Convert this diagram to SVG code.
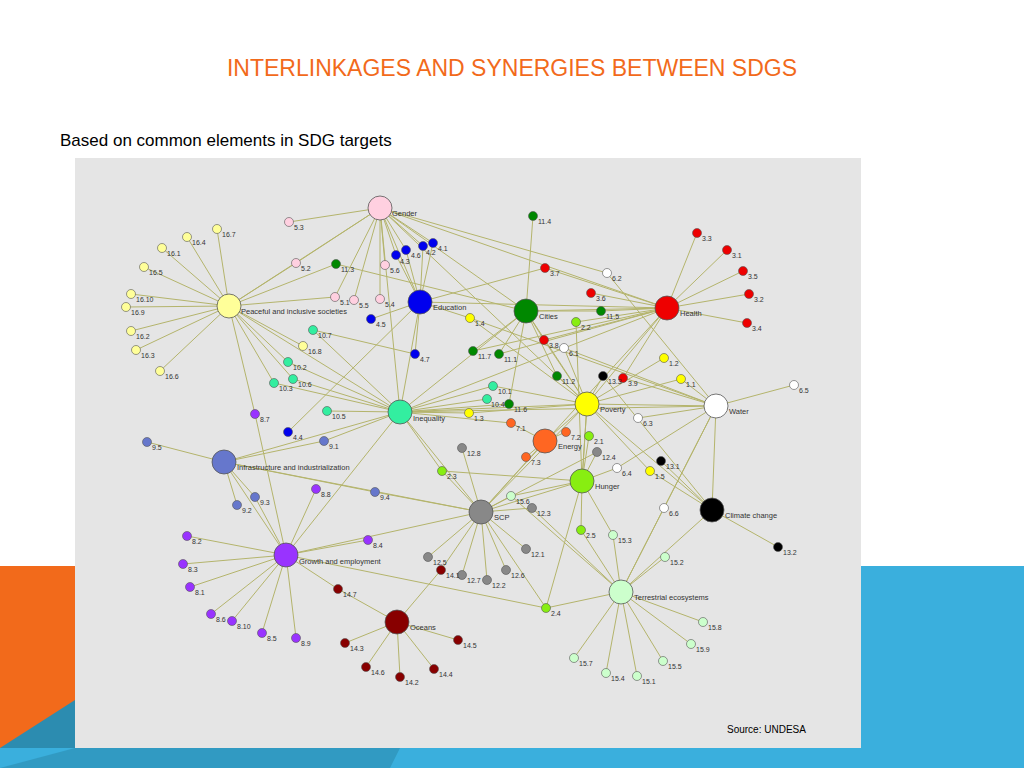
<svg xmlns="http://www.w3.org/2000/svg" width="1024" height="768" viewBox="0 0 1024 768">
<style>
.e{fill:none;stroke:#b4b46c;stroke-width:1}
.t{stroke:#555;stroke-width:.6}
.h{stroke:#555;stroke-width:.8}
.l{font-family:"Liberation Sans",Arial,sans-serif;font-size:7px;fill:#333}
.hl{font-family:"Liberation Sans",Arial,sans-serif;font-size:7.5px;fill:#333}
.g{fill:#ffd0e0}.p{fill:#ffff99}.ed{fill:#0000ee}.c{fill:#008800}.he{fill:#ee0000}.w{fill:#fff}.pv{fill:#ffff00}.i{fill:#33eea0}.en{fill:#ff6622}.hu{fill:#88ee11}.inf{fill:#6677cc}.cl{fill:#000}.s{fill:#888}.gr{fill:#9933ff}.o{fill:#880000}.te{fill:#ccffcc}
</style>
<rect width="1024" height="768" fill="#fff"/>
<rect x="0" y="566" width="80" height="202" fill="#f26a1b"/>
<rect x="855" y="566" width="169" height="202" fill="#3aafdd"/>
<rect x="0" y="748" width="1024" height="20" fill="#3aafdd"/>
<polygon points="0,748 75,700 75,748" fill="#2c8cb0"/>
<polygon points="75,748 400,748 390,768 0,768" fill="#2c8cb0" opacity="0.6"/>
<text x="512" y="76" text-anchor="middle" font-family="'Liberation Sans',Arial,sans-serif" font-size="23" fill="#f26a1b">INTERLINKAGES AND SYNERGIES BETWEEN SDGS</text>
<text x="60" y="146" font-family="'Liberation Sans',Arial,sans-serif" font-size="17" fill="#000">Based on common elements in SDG targets</text>
<rect x="75" y="158" width="786" height="590" fill="#e5e5e5"/>
<g id="connectors">
<path class="e" d="M380 208L289 222M380 208L296 263M380 208L335 297M380 208L354 300M380 208L380 299M380 208L385 265M380 208L396 255M380 208L406 250M380 208L423 246M380 208L433 243M380 208L400 412M380 208L420 302M380 208L667 308M380 208L607 273M380 208L587 404M380 208L526 311M380 208L229 306"/>
<path class="e" d="M229 306L217 229M229 306L187 237M229 306L162 248M229 306L144 267M229 306L131 294M229 306L126 307M229 306L131 331M229 306L136 350M229 306L160 371M229 306L303 346M229 306L296 263M229 306L336 264M229 306L335 297M229 306L288 362M229 306L293 379M229 306L274 383M229 306L400 412M229 306L255 414M313 330L415 354"/>
<path class="e" d="M420 302L433 243M420 302L423 246M420 302L406 250M420 302L396 255M420 302L371 319M420 302L415 354M420 302L288 432M420 302L400 412M420 302L470 318M420 302L667 308M420 302L545 268"/>
<path class="e" d="M526 311L533 216M526 311L336 264M526 311L601 311M526 311L473 351M526 311L499 354M526 311L557 376M526 311L509 404M526 311L667 308M526 311L587 404M526 311L400 412M526 311L544 340"/>
<path class="e" d="M667 308L697 233M667 308L727 250M667 308L743 271M667 308L749 294M667 308L747 323M667 308L545 268M667 308L591 293M667 308L544 340M667 308L623 378M667 308L576 322M667 308L601 311M667 308L400 412M667 308L587 404M667 308L481 512M667 308L499 354M667 308L473 351"/>
<path class="e" d="M716 406L607 273M716 406L564 348M716 406L794 385M716 406L638 418M716 406L617 468M716 406L664 508M716 406L587 404M716 406L681 379M716 406L623 378M716 406L400 412M716 406L621 592M716 406L470 318"/>
<path class="e" d="M587 404L470 318M587 404L664 358M587 404L681 379M587 404L469 413M587 404L650 471M587 404L400 412M587 404L557 376M587 404L544 340M587 404L564 348M587 404L603 376M587 404L582 481M587 404L481 512M587 404L712 510M587 404L493 386"/>
<path class="e" d="M400 412L313 330M400 412L288 362M400 412L293 379M400 412L274 383M400 412L327 411M400 412L493 386M400 412L487 399M400 412L469 413M400 412L509 404M400 412L224 462M400 412L286 555M400 412L481 512M400 412L324 441M400 412L442 471M400 412L511 423"/>
<path class="e" d="M545 441L511 423M545 441L566 432M545 441L526 457M545 441L587 404M545 441L481 512"/>
<path class="e" d="M582 481L576 322M582 481L589 436M582 481L442 471M582 481L581 530M582 481L546 608M582 481L481 512M582 481L613 535M582 481L587 404M582 481L597 452M582 481L617 468M582 481L511 496"/>
<path class="e" d="M224 462L147 442M224 462L324 441M224 462L255 497M224 462L237 505M224 462L375 492M224 462L481 512M224 462L286 555"/>
<path class="e" d="M712 510L603 376M712 510L661 461M712 510L778 547M712 510L650 471M712 510L621 592M712 510L716 406"/>
<path class="e" d="M481 512L462 448M481 512L597 452M481 512L532 508M481 512L526 549M481 512L428 557M481 512L462 575M481 512L487 580M481 512L506 570M481 512L442 471M481 512L375 492M481 512L511 496M481 512L441 570M481 512L286 555M481 512L546 608"/>
<path class="e" d="M286 555L255 414M286 555L316 489M286 555L368 540M286 555L187 536M286 555L183 564M286 555L190 587M286 555L211 614M286 555L232 621M286 555L262 633M286 555L296 638M286 555L338 589M286 555L546 608M286 555L255 497"/>
<path class="e" d="M397 622L338 589M397 622L441 570M397 622L345 643M397 622L366 667M397 622L400 677M397 622L434 669M397 622L458 640"/>
<path class="e" d="M621 592L511 496M621 592L613 535M621 592L665 557M621 592L703 622M621 592L691 644M621 592L663 661M621 592L637 676M621 592L606 673M621 592L574 658M621 592L546 608M621 592L664 508M621 592L581 530M621 592L532 508"/>
</g>
<g id="hubs">
<g id="gender"><circle class="h g" cx="380" cy="208" r="12"/><text class="hl" x="392" y="216">Gender</text></g>
<g id="peace"><circle class="h p" cx="229" cy="306" r="12"/><text class="hl" x="241" y="314">Peaceful and inclusive societies</text></g>
<g id="education"><circle class="h ed" cx="420" cy="302" r="12"/><text class="hl" x="433" y="310">Education</text></g>
<g id="cities"><circle class="h c" cx="526" cy="311" r="12"/><text class="hl" x="539" y="319">Cities</text></g>
<g id="health"><circle class="h he" cx="667" cy="308" r="12"/><text class="hl" x="680" y="316">Health</text></g>
<g id="water"><circle class="h w" cx="716" cy="406" r="12"/><text class="hl" x="729" y="414">Water</text></g>
<g id="poverty"><circle class="h pv" cx="587" cy="404" r="12"/><text class="hl" x="600" y="412">Poverty</text></g>
<g id="inequality"><circle class="h i" cx="400" cy="412" r="12"/><text class="hl" x="413" y="421">Inequality</text></g>
<g id="energy"><circle class="h en" cx="545" cy="441" r="12"/><text class="hl" x="558" y="449">Energy</text></g>
<g id="infra"><circle class="h inf" cx="224" cy="462" r="12"/><text class="hl" x="237" y="470">Infrastructure and industrialization</text></g>
<g id="hunger"><circle class="h hu" cx="582" cy="481" r="12"/><text class="hl" x="595" y="489">Hunger</text></g>
<g id="climate"><circle class="h cl" cx="712" cy="510" r="12"/><text class="hl" x="725" y="518">Climate change</text></g>
<g id="scp"><circle class="h s" cx="481" cy="512" r="12"/><text class="hl" x="494" y="520">SCP</text></g>
<g id="growth"><circle class="h gr" cx="286" cy="555" r="12"/><text class="hl" x="299" y="564">Growth and employment</text></g>
<g id="oceans"><circle class="h o" cx="397" cy="622" r="12"/><text class="hl" x="410" y="630">Oceans</text></g>
<g id="terrestrial"><circle class="h te" cx="621" cy="592" r="12"/><text class="hl" x="634" y="600">Terrestrial ecosystems</text></g>
</g>
<g id="targets">
<g id="t5-3"><circle class="t g" cx="289" cy="222" r="4.5"/><text class="l" x="294" y="230">5.3</text></g>
<g id="t5-2"><circle class="t g" cx="296" cy="263" r="4.5"/><text class="l" x="301" y="271">5.2</text></g>
<g id="t5-1"><circle class="t g" cx="335" cy="297" r="4.5"/><text class="l" x="340" y="305">5.1</text></g>
<g id="t5-5"><circle class="t g" cx="354" cy="300" r="4.5"/><text class="l" x="359" y="308">5.5</text></g>
<g id="t5-4"><circle class="t g" cx="380" cy="299" r="4.5"/><text class="l" x="385" y="307">5.4</text></g>
<g id="t5-6"><circle class="t g" cx="385" cy="265" r="4.5"/><text class="l" x="390" y="273">5.6</text></g>
<g id="t16-7"><circle class="t p" cx="217" cy="229" r="4.5"/><text class="l" x="222" y="237">16.7</text></g>
<g id="t16-4"><circle class="t p" cx="187" cy="237" r="4.5"/><text class="l" x="192" y="245">16.4</text></g>
<g id="t16-1"><circle class="t p" cx="162" cy="248" r="4.5"/><text class="l" x="167" y="256">16.1</text></g>
<g id="t16-5"><circle class="t p" cx="144" cy="267" r="4.5"/><text class="l" x="149" y="275">16.5</text></g>
<g id="t16-10"><circle class="t p" cx="131" cy="294" r="4.5"/><text class="l" x="136" y="302">16.10</text></g>
<g id="t16-9"><circle class="t p" cx="126" cy="307" r="4.5"/><text class="l" x="131" y="315">16.9</text></g>
<g id="t16-2"><circle class="t p" cx="131" cy="331" r="4.5"/><text class="l" x="136" y="339">16.2</text></g>
<g id="t16-3"><circle class="t p" cx="136" cy="350" r="4.5"/><text class="l" x="141" y="358">16.3</text></g>
<g id="t16-6"><circle class="t p" cx="160" cy="371" r="4.5"/><text class="l" x="165" y="379">16.6</text></g>
<g id="t16-8"><circle class="t p" cx="303" cy="346" r="4.5"/><text class="l" x="308" y="354">16.8</text></g>
<g id="t4-1"><circle class="t ed" cx="433" cy="243" r="4.5"/><text class="l" x="438" y="251">4.1</text></g>
<g id="t4-2"><circle class="t ed" cx="423" cy="246" r="4.5"/><text class="l" x="426" y="255">4.2</text></g>
<g id="t4-6"><circle class="t ed" cx="406" cy="250" r="4.5"/><text class="l" x="411" y="258">4.6</text></g>
<g id="t4-3"><circle class="t ed" cx="396" cy="255" r="4.5"/><text class="l" x="400" y="264">4.3</text></g>
<g id="t4-5"><circle class="t ed" cx="371" cy="319" r="4.5"/><text class="l" x="376" y="327">4.5</text></g>
<g id="t4-7"><circle class="t ed" cx="415" cy="354" r="4.5"/><text class="l" x="420" y="362">4.7</text></g>
<g id="t4-4"><circle class="t ed" cx="288" cy="432" r="4.5"/><text class="l" x="293" y="440">4.4</text></g>
<g id="t11-4"><circle class="t c" cx="533" cy="216" r="4.5"/><text class="l" x="538" y="224">11.4</text></g>
<g id="t11-3"><circle class="t c" cx="336" cy="264" r="4.5"/><text class="l" x="341" y="272">11.3</text></g>
<g id="t11-5"><circle class="t c" cx="601" cy="311" r="4.5"/><text class="l" x="606" y="319">11.5</text></g>
<g id="t11-7"><circle class="t c" cx="473" cy="351" r="4.5"/><text class="l" x="478" y="359">11.7</text></g>
<g id="t11-1"><circle class="t c" cx="499" cy="354" r="4.5"/><text class="l" x="504" y="362">11.1</text></g>
<g id="t11-2"><circle class="t c" cx="557" cy="376" r="4.5"/><text class="l" x="562" y="384">11.2</text></g>
<g id="t11-6"><circle class="t c" cx="509" cy="404" r="4.5"/><text class="l" x="514" y="412">11.6</text></g>
<g id="t3-3"><circle class="t he" cx="697" cy="233" r="4.5"/><text class="l" x="702" y="241">3.3</text></g>
<g id="t3-1"><circle class="t he" cx="727" cy="250" r="4.5"/><text class="l" x="732" y="258">3.1</text></g>
<g id="t3-5"><circle class="t he" cx="743" cy="271" r="4.5"/><text class="l" x="748" y="279">3.5</text></g>
<g id="t3-2"><circle class="t he" cx="749" cy="294" r="4.5"/><text class="l" x="754" y="302">3.2</text></g>
<g id="t3-4"><circle class="t he" cx="747" cy="323" r="4.5"/><text class="l" x="752" y="331">3.4</text></g>
<g id="t3-7"><circle class="t he" cx="545" cy="268" r="4.5"/><text class="l" x="550" y="276">3.7</text></g>
<g id="t3-6"><circle class="t he" cx="591" cy="293" r="4.5"/><text class="l" x="596" y="301">3.6</text></g>
<g id="t3-8"><circle class="t he" cx="544" cy="340" r="4.5"/><text class="l" x="549" y="348">3.8</text></g>
<g id="t3-9"><circle class="t he" cx="623" cy="378" r="4.5"/><text class="l" x="628" y="386">3.9</text></g>
<g id="t6-2"><circle class="t w" cx="607" cy="273" r="4.5"/><text class="l" x="612" y="281">6.2</text></g>
<g id="t6-1"><circle class="t w" cx="564" cy="348" r="4.5"/><text class="l" x="569" y="356">6.1</text></g>
<g id="t6-5"><circle class="t w" cx="794" cy="385" r="4.5"/><text class="l" x="799" y="393">6.5</text></g>
<g id="t6-3"><circle class="t w" cx="638" cy="418" r="4.5"/><text class="l" x="643" y="426">6.3</text></g>
<g id="t6-4"><circle class="t w" cx="617" cy="468" r="4.5"/><text class="l" x="622" y="476">6.4</text></g>
<g id="t6-6"><circle class="t w" cx="664" cy="508" r="4.5"/><text class="l" x="669" y="516">6.6</text></g>
<g id="t1-4"><circle class="t pv" cx="470" cy="318" r="4.5"/><text class="l" x="475" y="326">1.4</text></g>
<g id="t1-2"><circle class="t pv" cx="664" cy="358" r="4.5"/><text class="l" x="669" y="366">1.2</text></g>
<g id="t1-1"><circle class="t pv" cx="681" cy="379" r="4.5"/><text class="l" x="686" y="387">1.1</text></g>
<g id="t1-3"><circle class="t pv" cx="469" cy="413" r="4.5"/><text class="l" x="474" y="421">1.3</text></g>
<g id="t1-5"><circle class="t pv" cx="650" cy="471" r="4.5"/><text class="l" x="655" y="479">1.5</text></g>
<g id="t10-7"><circle class="t i" cx="313" cy="330" r="4.5"/><text class="l" x="318" y="338">10.7</text></g>
<g id="t10-2"><circle class="t i" cx="288" cy="362" r="4.5"/><text class="l" x="293" y="370">10.2</text></g>
<g id="t10-6"><circle class="t i" cx="293" cy="379" r="4.5"/><text class="l" x="298" y="387">10.6</text></g>
<g id="t10-3"><circle class="t i" cx="274" cy="383" r="4.5"/><text class="l" x="279" y="391">10.3</text></g>
<g id="t10-5"><circle class="t i" cx="327" cy="411" r="4.5"/><text class="l" x="332" y="419">10.5</text></g>
<g id="t10-1"><circle class="t i" cx="493" cy="386" r="4.5"/><text class="l" x="498" y="394">10.1</text></g>
<g id="t10-4"><circle class="t i" cx="487" cy="399" r="4.5"/><text class="l" x="491" y="407">10.4</text></g>
<g id="t7-1"><circle class="t en" cx="511" cy="423" r="4.5"/><text class="l" x="516" y="431">7.1</text></g>
<g id="t7-2"><circle class="t en" cx="566" cy="432" r="4.5"/><text class="l" x="571" y="440">7.2</text></g>
<g id="t7-3"><circle class="t en" cx="526" cy="457" r="4.5"/><text class="l" x="531" y="465">7.3</text></g>
<g id="t2-2"><circle class="t hu" cx="576" cy="322" r="4.5"/><text class="l" x="581" y="330">2.2</text></g>
<g id="t2-1"><circle class="t hu" cx="589" cy="436" r="4.5"/><text class="l" x="594" y="444">2.1</text></g>
<g id="t2-3"><circle class="t hu" cx="442" cy="471" r="4.5"/><text class="l" x="447" y="479">2.3</text></g>
<g id="t2-5"><circle class="t hu" cx="581" cy="530" r="4.5"/><text class="l" x="586" y="538">2.5</text></g>
<g id="t2-4"><circle class="t hu" cx="546" cy="608" r="4.5"/><text class="l" x="551" y="616">2.4</text></g>
<g id="t9-5"><circle class="t inf" cx="147" cy="442" r="4.5"/><text class="l" x="152" y="450">9.5</text></g>
<g id="t9-1"><circle class="t inf" cx="324" cy="441" r="4.5"/><text class="l" x="329" y="449">9.1</text></g>
<g id="t9-3"><circle class="t inf" cx="255" cy="497" r="4.5"/><text class="l" x="260" y="505">9.3</text></g>
<g id="t9-2"><circle class="t inf" cx="237" cy="505" r="4.5"/><text class="l" x="242" y="513">9.2</text></g>
<g id="t9-4"><circle class="t inf" cx="375" cy="492" r="4.5"/><text class="l" x="380" y="500">9.4</text></g>
<g id="t8-7"><circle class="t gr" cx="255" cy="414" r="4.5"/><text class="l" x="260" y="422">8.7</text></g>
<g id="t8-8"><circle class="t gr" cx="316" cy="489" r="4.5"/><text class="l" x="321" y="497">8.8</text></g>
<g id="t8-4"><circle class="t gr" cx="368" cy="540" r="4.5"/><text class="l" x="373" y="548">8.4</text></g>
<g id="t8-2"><circle class="t gr" cx="187" cy="536" r="4.5"/><text class="l" x="192" y="544">8.2</text></g>
<g id="t8-3"><circle class="t gr" cx="183" cy="564" r="4.5"/><text class="l" x="188" y="572">8.3</text></g>
<g id="t8-1"><circle class="t gr" cx="190" cy="587" r="4.5"/><text class="l" x="195" y="595">8.1</text></g>
<g id="t8-6"><circle class="t gr" cx="211" cy="614" r="4.5"/><text class="l" x="216" y="622">8.6</text></g>
<g id="t8-10"><circle class="t gr" cx="232" cy="621" r="4.5"/><text class="l" x="237" y="629">8.10</text></g>
<g id="t8-5"><circle class="t gr" cx="262" cy="633" r="4.5"/><text class="l" x="267" y="641">8.5</text></g>
<g id="t8-9"><circle class="t gr" cx="296" cy="638" r="4.5"/><text class="l" x="301" y="646">8.9</text></g>
<g id="t12-8"><circle class="t s" cx="462" cy="448" r="4.5"/><text class="l" x="467" y="456">12.8</text></g>
<g id="t12-4"><circle class="t s" cx="597" cy="452" r="4.5"/><text class="l" x="602" y="460">12.4</text></g>
<g id="t12-3"><circle class="t s" cx="532" cy="508" r="4.5"/><text class="l" x="537" y="516">12.3</text></g>
<g id="t12-1"><circle class="t s" cx="526" cy="549" r="4.5"/><text class="l" x="531" y="557">12.1</text></g>
<g id="t12-5"><circle class="t s" cx="428" cy="557" r="4.5"/><text class="l" x="433" y="565">12.5</text></g>
<g id="t12-7"><circle class="t s" cx="462" cy="575" r="4.5"/><text class="l" x="467" y="583">12.7</text></g>
<g id="t12-2"><circle class="t s" cx="487" cy="580" r="4.5"/><text class="l" x="492" y="588">12.2</text></g>
<g id="t12-6"><circle class="t s" cx="506" cy="570" r="4.5"/><text class="l" x="511" y="578">12.6</text></g>
<g id="t13-3"><circle class="t cl" cx="603" cy="376" r="4.5"/><text class="l" x="608" y="384">13.3</text></g>
<g id="t13-1"><circle class="t cl" cx="661" cy="461" r="4.5"/><text class="l" x="666" y="469">13.1</text></g>
<g id="t13-2"><circle class="t cl" cx="778" cy="547" r="4.5"/><text class="l" x="783" y="555">13.2</text></g>
<g id="t14-7"><circle class="t o" cx="338" cy="589" r="4.5"/><text class="l" x="343" y="597">14.7</text></g>
<g id="t14-1"><circle class="t o" cx="441" cy="570" r="4.5"/><text class="l" x="446" y="578">14.1</text></g>
<g id="t14-3"><circle class="t o" cx="345" cy="643" r="4.5"/><text class="l" x="350" y="651">14.3</text></g>
<g id="t14-6"><circle class="t o" cx="366" cy="667" r="4.5"/><text class="l" x="371" y="675">14.6</text></g>
<g id="t14-2"><circle class="t o" cx="400" cy="677" r="4.5"/><text class="l" x="405" y="685">14.2</text></g>
<g id="t14-4"><circle class="t o" cx="434" cy="669" r="4.5"/><text class="l" x="439" y="677">14.4</text></g>
<g id="t14-5"><circle class="t o" cx="458" cy="640" r="4.5"/><text class="l" x="463" y="648">14.5</text></g>
<g id="t15-6"><circle class="t te" cx="511" cy="496" r="4.5"/><text class="l" x="516" y="504">15.6</text></g>
<g id="t15-3"><circle class="t te" cx="613" cy="535" r="4.5"/><text class="l" x="618" y="543">15.3</text></g>
<g id="t15-2"><circle class="t te" cx="665" cy="557" r="4.5"/><text class="l" x="670" y="565">15.2</text></g>
<g id="t15-8"><circle class="t te" cx="703" cy="622" r="4.5"/><text class="l" x="708" y="630">15.8</text></g>
<g id="t15-9"><circle class="t te" cx="691" cy="644" r="4.5"/><text class="l" x="696" y="652">15.9</text></g>
<g id="t15-5"><circle class="t te" cx="663" cy="661" r="4.5"/><text class="l" x="668" y="669">15.5</text></g>
<g id="t15-1"><circle class="t te" cx="637" cy="676" r="4.5"/><text class="l" x="642" y="684">15.1</text></g>
<g id="t15-4"><circle class="t te" cx="606" cy="673" r="4.5"/><text class="l" x="611" y="681">15.4</text></g>
<g id="t15-7"><circle class="t te" cx="574" cy="658" r="4.5"/><text class="l" x="579" y="666">15.7</text></g>
</g>
<text x="727" y="733" font-family="'Liberation Sans',Arial,sans-serif" font-size="10" fill="#000">Source: UNDESA</text>
</svg>
